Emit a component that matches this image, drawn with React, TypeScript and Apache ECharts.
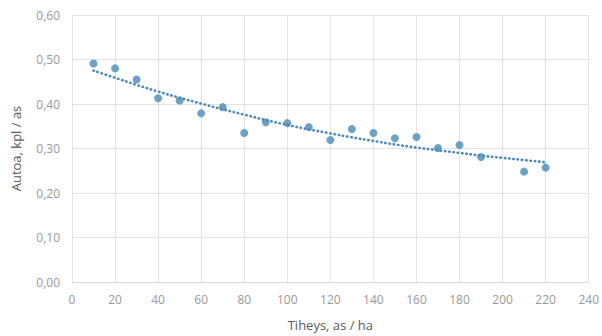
import React, { useEffect, useRef } from "react";
import * as echarts from "echarts";

const densityX = [10, 20, 30, 40, 50, 60, 70, 80, 90, 100, 110, 120, 130, 140, 150, 160, 170, 180, 190, 210, 220];
const outputY = [0.491, 0.48, 0.455, 0.413, 0.408, 0.379, 0.393, 0.335, 0.359, 0.357, 0.348, 0.319, 0.344, 0.335, 0.323, 0.326, 0.301, 0.308, 0.281, 0.248, 0.257];

const trendX = [10, 20, 30, 40, 50, 60, 70, 80, 90, 100, 110, 120, 130, 140, 150, 160, 170, 180, 190, 200, 210, 220];
const trendY = [0.475, 0.459, 0.443, 0.428, 0.414, 0.401, 0.388, 0.376, 0.364, 0.353, 0.343, 0.334, 0.325, 0.317, 0.309, 0.302, 0.296, 0.29, 0.284, 0.279, 0.274, 0.269];

const xTicks = { min: 0, max: 240, interval: 20 };
const yTicks = { min: 0, max: 0.6, interval: 0.1 };

const BLUE = "#4a89b8";
const FONT = "'Open Sans', sans-serif";

export default function App() {
  const ref = useRef<HTMLDivElement>(null);
  useEffect(() => {
    if (!ref.current) return;
    const chart = echarts.init(ref.current, null, { renderer: "svg" });
    chart.setOption({
      animation: false,
      backgroundColor: "#ffffff",
      textStyle: { fontFamily: FONT },
      grid: { left: 72, right: 12, top: 15, bottom: 52 },
      xAxis: {
        type: "value",
        ...xTicks,
        name: "Tiheys, as / ha",
        nameLocation: "middle",
        nameGap: 36,
        nameTextStyle: { color: "#595959", fontSize: 13, fontFamily: FONT },
        axisLine: { show: true, lineStyle: { color: "#d9d9d9" } },
        axisTick: { show: false },
        axisLabel: { color: "#999999", fontSize: 12, margin: 11, fontFamily: FONT },
        splitLine: { show: true, lineStyle: { color: "#e3e3e3" } },
      },
      yAxis: {
        type: "value",
        ...yTicks,
        name: "Autoa, kpl / as",
        nameLocation: "middle",
        nameGap: 50,
        nameRotate: 90,
        nameTextStyle: { color: "#595959", fontSize: 13, fontFamily: FONT },
        axisLine: { show: false },
        axisTick: { show: false },
        axisLabel: {
          color: "#999999",
          fontSize: 12,
          margin: 12,
          fontFamily: FONT,
          formatter: (v: number) => v.toFixed(2).replace(".", ","),
        },
        splitLine: { show: true, lineStyle: { color: "#e3e3e3" } },
      },
      series: [
        {
          type: "line",
          data: trendX.map((x, i) => [x, trendY[i]]),
          smooth: true,
          showSymbol: false,
          symbol: "none",
          lineStyle: { color: BLUE, width: 2.6, type: [0.4, 3.9], cap: "round" },
          z: 2,
        },
        {
          type: "scatter",
          data: densityX.map((x, i) => [x, outputY[i]]),
          symbolSize: 8,
          itemStyle: { color: BLUE },
          z: 3,
        },
      ],
    });
    return () => chart.dispose();
  }, []);
  return <div ref={ref} style={{ width: 602, height: 336, position: "absolute", left: 0, top: 0 }} />;
}
